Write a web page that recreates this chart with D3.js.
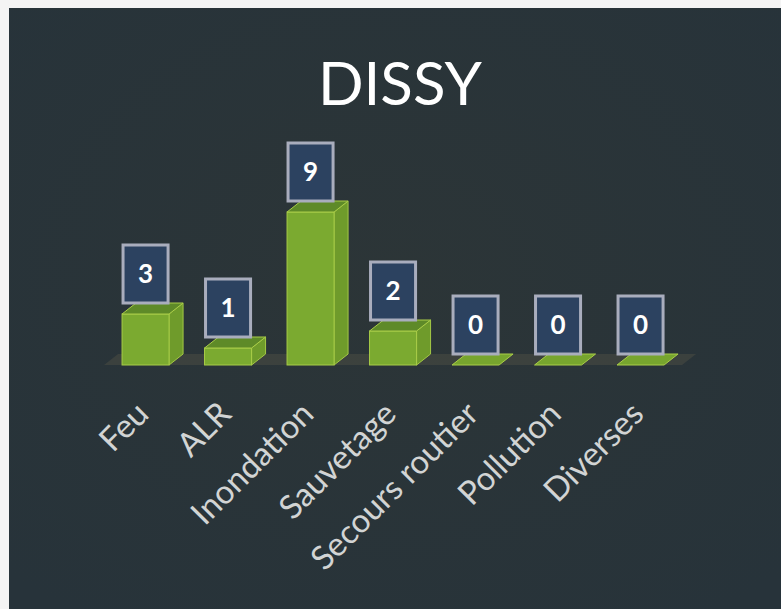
<!DOCTYPE html>
<html>
<head>
<meta charset="utf-8">
<script src="https://cdn.jsdelivr.net/npm/d3@7"></script>
<style>
  html, body { margin: 0; padding: 0; background: #ffffff; }
  svg { display: block; }
</style>
</head>
<body>
<svg id="chart" width="781" height="609"></svg>
<script>
const title = "DISSY";
const categories = ["Feu", "ALR", "Inondation", "Sauvetage", "Secours routier", "Pollution", "Diverses"];
const values = [3, 1, 9, 2, 0, 0, 0];

const W = 781, H = 609;
const svg = d3.select("#chart");

// background panel with white strip on top/left
svg.append("rect").attr("x", 0).attr("y", 0).attr("width", W).attr("height", H).attr("fill", "#f4f4f4");
const defs = svg.append("defs");
const rg = defs.append("radialGradient").attr("id", "bg").attr("cx", "50%").attr("cy", "45%").attr("r", "70%");
rg.append("stop").attr("offset", "0%").attr("stop-color", "#2c3537");
rg.append("stop").attr("offset", "100%").attr("stop-color", "#27333a");
svg.append("rect").attr("x", 9).attr("y", 8).attr("width", W - 9).attr("height", H - 8).attr("fill", "url(#bg)");

// title
svg.append("text").attr("x", 400).attr("y", 105).attr("text-anchor", "middle")
  .attr("font-family", "Lato, 'Open Sans', sans-serif").attr("font-size", 60)
  .attr("fill", "#ffffff").text(title);

// scales
const x = d3.scaleBand().domain(categories).range([104.3, 681.8]).paddingInner(0.43).paddingOuter(0.215);
const y = d3.scaleLinear().domain([0, 9]).range([365, 212]);
const dx = 14, dy = 11;
const bw = x.bandwidth();

// floor
const fx0 = x(categories[0]) - 18, fx1 = x(categories[categories.length - 1]) + bw + 18;
svg.append("polygon")
  .attr("points", [[fx0, y(0)], [fx1, y(0)], [fx1 + dx, y(0) - dy], [fx0 + dx, y(0) - dy]].map(p => p.join(",")).join(" "))
  .attr("fill", "#4a4d44").attr("opacity", 0.55);

const g = svg.append("g");
const bars = g.selectAll("g.bar").data(categories.map((c, i) => ({c, v: values[i]}))).join("g").attr("class", "bar");

bars.each(function(d) {
  const s = d3.select(this);
  const x0 = x(d.c), yb = y(0), yt = y(d.v);
  const pts = a => a.map(p => p.join(",")).join(" ");
  if (d.v > 0) {
    // side
    s.append("polygon").attr("points", pts([[x0 + bw, yt], [x0 + bw + dx, yt - dy], [x0 + bw + dx, yb - dy], [x0 + bw, yb]]))
      .attr("fill", "#6f9b2b").attr("stroke", "#a4c845").attr("stroke-width", 1);
    // front
    s.append("rect").attr("x", x0).attr("y", yt).attr("width", bw).attr("height", yb - yt)
      .attr("fill", "#7baa30").attr("stroke", "#a8cc48").attr("stroke-width", 1);
  }
  // top
  s.append("polygon").attr("points", pts([[x0, yt], [x0 + dx, yt - dy], [x0 + bw + dx, yt - dy], [x0 + bw, yt]]))
    .attr("fill", d.v > 0 ? "#5e8a28" : "#77a52e").attr("stroke", "#aacd48").attr("stroke-width", 1);

  // value box
  const bxW = bw - 2, bxH = 58;
  const by = yt - dy - bxH;
  s.append("rect").attr("x", x0 + 1).attr("y", by).attr("width", bxW).attr("height", bxH)
    .attr("fill", "#2c4260").attr("stroke", "#a9adbd").attr("stroke-width", 3);
  s.append("text").attr("x", x0 + 1 + bxW / 2).attr("y", by + bxH / 2 + 9).attr("text-anchor", "middle")
    .attr("font-family", "Lato, 'Open Sans', sans-serif").attr("font-weight", "bold").attr("font-size", 26)
    .attr("fill", "#ffffff").text(d.v);
});

// category labels
g.selectAll("text.lab").data(categories).join("text").attr("class", "lab")
  .attr("transform", c => `translate(${x(c) + bw / 2 + 5},${416}) rotate(-45)`)
  .attr("text-anchor", "end")
  .attr("font-family", "Lato, 'Open Sans', sans-serif").attr("font-size", 33)
  .attr("fill", "#d2d4d4").text(c => c);
</script>
</body>
</html>
